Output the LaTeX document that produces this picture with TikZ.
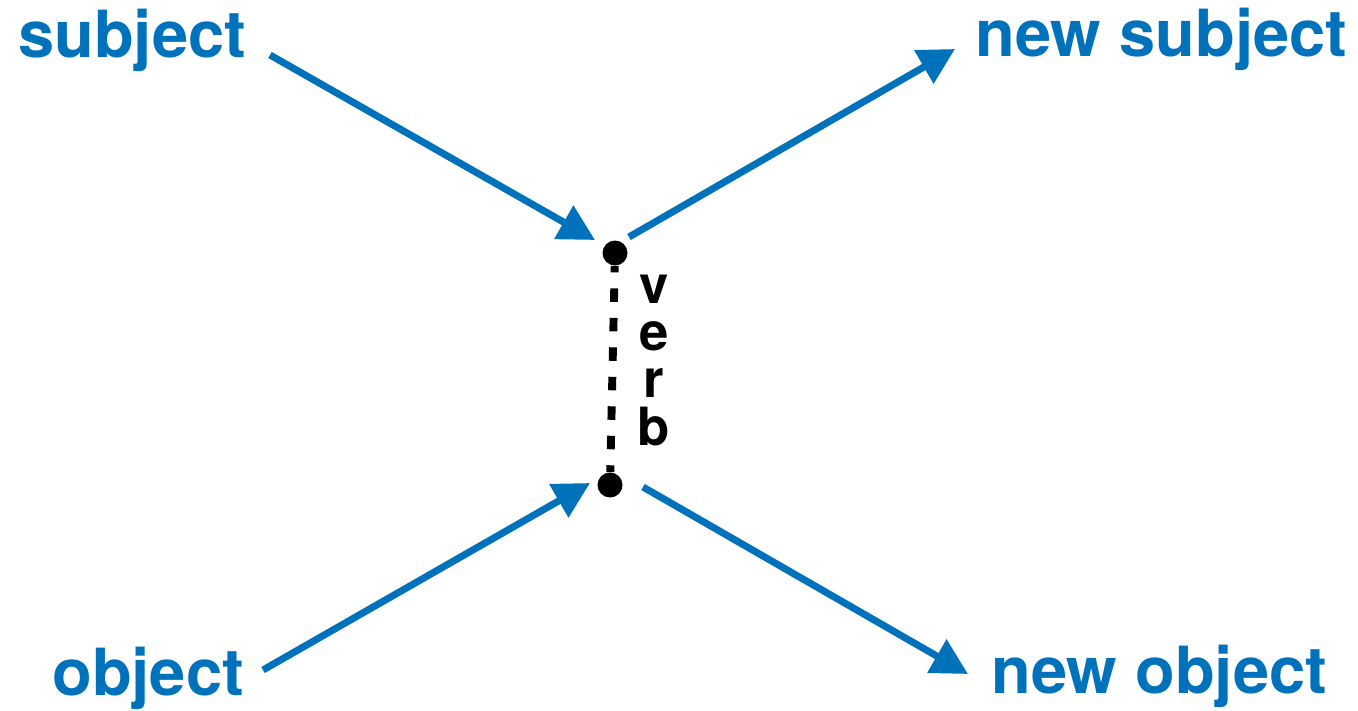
\documentclass[tikz,border=0pt]{standalone}
\usepackage{fontspec}
\setmainfont{TeX Gyre Heros}
\usetikzlibrary{arrows.meta}
\definecolor{verbblue}{RGB}{0,114,188}

\begin{document}
\begin{tikzpicture}[x=0.02cm, y=-0.02cm,
        term/.style={anchor=base west, inner sep=0pt, text=verbblue, font=\fontsize{37}{40}\selectfont\bfseries},
        link/.style={draw=verbblue, line width=4pt, -{Triangle[length=0.72cm, width=0.74cm]}},
        dot/.style={circle, fill, inner sep=0pt, minimum size=0.5cm},
        letters/.style={anchor=north, inner sep=0pt, align=center, font=\fontsize{30}{26.8}\selectfont\bfseries}]
        \useasboundingbox (0,0) rectangle (1358,710);

        \node[term] (subject) at (18, 57) {subject};
        \node[term] (newsubject) at (975, 56) {new subject};
        \node[term] (object) at (52, 695) {object};
        \node[term] (newobject) at (991, 693) {new object};

        \node[dot] (vtop) at (615, 253) {};
        \node[dot] (vbot) at (610, 485) {};
        \node[letters] (verb) at (654, 275) {v\\e\\r\\b};

        \coordinate (subjtail) at (270, 55);
        \coordinate (subjtip) at (595, 240);
        \coordinate (nsubjtail) at (629, 237);
        \coordinate (nsubjtip) at (955, 49);
        \coordinate (objtail) at (263, 670);
        \coordinate (objtip) at (590, 483);
        \coordinate (nobjtail) at (643, 487);
        \coordinate (nobjtip) at (968, 674);

        \draw[line width=4.5pt, dash pattern=on 0.27cm off 0.32cm, dash phase=0.14cm] (vtop) -- (vbot);
        \draw[link] (subjtail) -- (subjtip);
        \draw[link] (nsubjtail) -- (nsubjtip);
        \draw[link] (objtail) -- (objtip);
        \draw[link] (nobjtail) -- (nobjtip);
    \end{tikzpicture}
\end{document}
